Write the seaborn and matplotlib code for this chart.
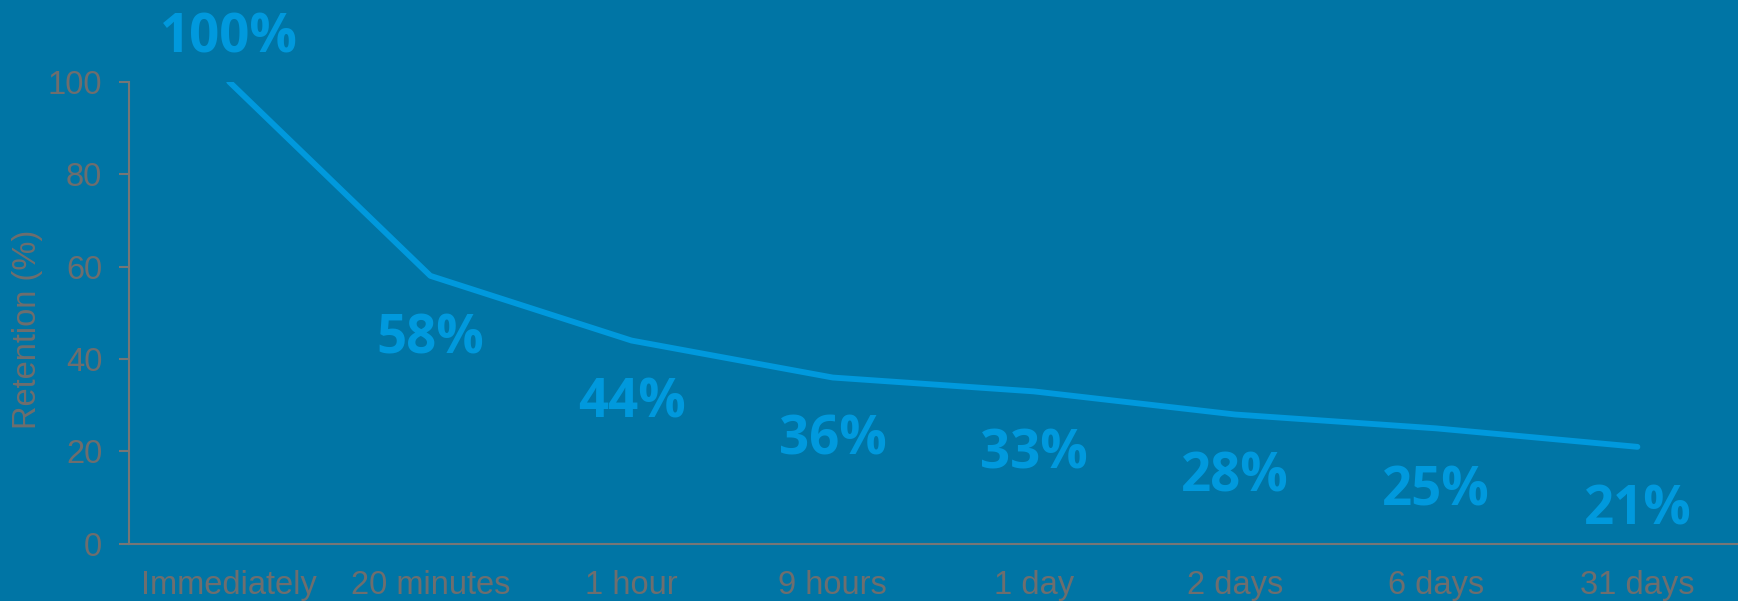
"""
Forgetting curve: retention over time, drawn with seaborn.
"""

import matplotlib.pyplot as plt
import pandas as pd
import seaborn as sns

intervals = ["Immediately", "20 minutes", "1 hour", "9 hours",
             "1 day", "2 days", "6 days", "31 days"]
retention = [100, 58, 44, 36, 33, 28, 25, 21]

BG = "#0075A5"
LINE = "#0099DD"
GREY = "#6E6E6E"

sns.set_style("ticks")
plt.rcParams["font.family"] = ["Liberation Sans", "DejaVu Sans"]

df = pd.DataFrame({"interval": intervals, "retention": retention})

fig = plt.figure(figsize=(17.38, 6.01), dpi=100, facecolor=BG)
ax = fig.add_axes([0.074, 0.095, 0.926, 0.769])
ax.set_facecolor(BG)

sns.lineplot(data=df, x="interval", y="retention", ax=ax, color=LINE,
             linewidth=4.2, sort=False, solid_capstyle="round")

for i, v in enumerate(retention):
    dy = 31 if i == 0 else -45.5
    ax.annotate(f"{v}%", (i, v), xytext=(0, dy), textcoords="offset points",
                ha="center", va="center", fontsize=38, fontweight="bold",
                color=LINE, family=["Open Sans", "DejaVu Sans"],
                annotation_clip=False)

ax.set_xlim(-0.5, 7.5)
ax.set_ylim(0, 100)
ax.set_yticks([0, 20, 40, 60, 80, 100])
ax.set_xlabel("")
ax.set_ylabel("Retention (%)", fontsize=23.5, color=GREY)
ax.yaxis.set_label_coords(-0.063, 0.465)
ax.yaxis.label.set_va("center")

for side in ["top", "right"]:
    ax.spines[side].set_visible(False)
for side in ["left", "bottom"]:
    ax.spines[side].set_color("#767676")
    ax.spines[side].set_linewidth(1.5)

ax.tick_params(axis="y", colors="#767676", labelcolor=GREY, labelsize=23.5,
               length=7, width=1.5, pad=12)
ax.tick_params(axis="x", length=0, labelcolor=GREY, labelsize=23.5, pad=19)

fig.savefig("out.png", dpi=100, facecolor=BG)
